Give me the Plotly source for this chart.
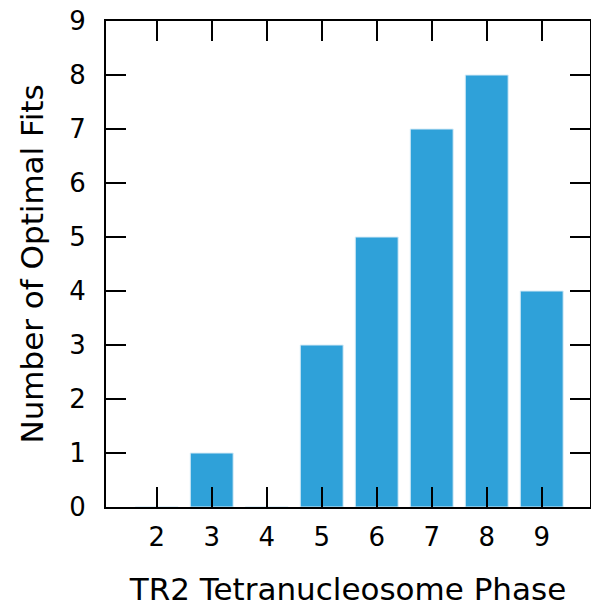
import plotly.graph_objects as go

phases = [2, 3, 4, 5, 6, 7, 8, 9]
fits = [0, 1, 0, 3, 5, 7, 8, 4]
x_ticks = [2, 3, 4, 5, 6, 7, 8, 9]
y_ticks = [0, 1, 2, 3, 4, 5, 6, 7, 8, 9]

font = "DejaVu Sans"
x_range = [1.078, 9.878]
y_range = [0, 9]

fig = go.Figure(go.Bar(
    x=phases, y=fits, width=0.78,
    marker=dict(color="#2fa1d9", line=dict(color="#d8ecf7", width=1)),
))
# invisible trace to activate top/right mirror axes
fig.add_trace(go.Scatter(x=[phases[0]], y=[fits[0]], xaxis="x2", yaxis="y2",
                         mode="markers", marker=dict(opacity=0), hoverinfo="skip"))

common = dict(ticks="inside", ticklen=20, tickwidth=2, tickcolor="black",
              showline=True, linecolor="black", linewidth=2,
              showgrid=False, zeroline=False, automargin=False)

fig.update_layout(
    width=591, height=607,
    margin=dict(l=106, r=1, t=21, b=100),
    paper_bgcolor="white", plot_bgcolor="white",
    showlegend=False,
    font=dict(family=font, color="black", size=26),
    xaxis=dict(
        range=x_range, tickvals=x_ticks, ticktext=[str(v) for v in x_ticks],
        tickfont=dict(size=26, family=font), ticklabelstandoff=6,
        title=dict(text="TR2 Tetranucleosome Phase", font=dict(size=31, family=font), standoff=27),
        **common,
    ),
    yaxis=dict(
        range=y_range, tickvals=y_ticks,
        tickfont=dict(size=26, family=font), ticklabelstandoff=13,
        ticklabeloverflow="allow",
        title=dict(text="Number of Optimal Fits", font=dict(size=31, family=font), standoff=16),
        **common,
    ),
    xaxis2=dict(range=x_range, tickvals=x_ticks, overlaying="x", side="top",
                showticklabels=False, **common),
    yaxis2=dict(range=y_range, tickvals=y_ticks, overlaying="y", side="right",
                showticklabels=False, **common),
)

fig.write_html("out.html", config={"displayModeBar": False},
               post_script="document.body.style.margin='0';")
